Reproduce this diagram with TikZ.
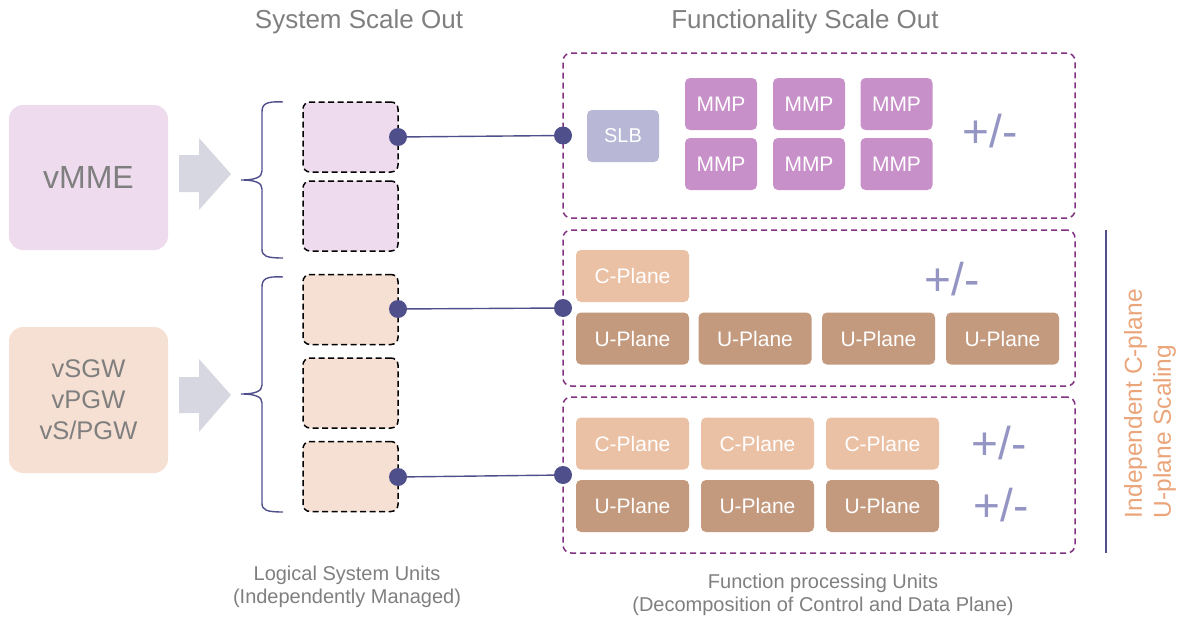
\documentclass[tikz,border=0pt]{standalone}
\usepackage{fontspec}
\setmainfont{Liberation Sans}
\definecolor{txtgray}{RGB}{127,127,127}
\definecolor{mmecol}{RGB}{238,219,238}
\definecolor{gwcol}{RGB}{246,224,211}
\definecolor{arrowcol}{RGB}{215,215,225}
\definecolor{dotcol}{RGB}{79,79,140}
\definecolor{grpcol}{RGB}{130,50,130}
\definecolor{slbcol}{RGB}{184,183,214}
\definecolor{mmpcol}{RGB}{200,144,201}
\definecolor{cpcol}{RGB}{235,193,166}
\definecolor{upcol}{RGB}{196,154,126}
\definecolor{pmcol}{RGB}{149,149,196}
\definecolor{sidecol}{RGB}{234,165,123}
\begin{document}
\begin{tikzpicture}[x=1pt,y=-1pt,inner sep=0pt,outer sep=0pt,
sysbox/.style={rectangle,rounded corners=14pt,minimum width=159pt,minimum height=145pt,text=txtgray},
unitbox/.style={draw,rectangle,rounded corners=7pt,line width=1.5pt,dash pattern=on 6pt off 3.5pt,minimum width=95pt,minimum height=70pt},
grpbox/.style={draw=grpcol,rectangle,rounded corners=8pt,line width=1.5pt,dash pattern=on 6pt off 4pt,minimum width=512pt},
fnbox/.style={rectangle,rounded corners=5pt,minimum width=113pt,minimum height=52pt,text=white,font=\fontsize{21}{21}\selectfont},
mmpbox/.style={fnbox,fill=mmpcol,minimum width=72pt},
dot/.style={circle,fill=dotcol,minimum size=18pt},
plusminus/.style={text=pmcol,font=\fontsize{46}{46}\selectfont},
conn/.style={draw=dotcol,line width=1.4pt},
heading/.style={text=txtgray,font=\fontsize{26}{26}\selectfont},
caption/.style={text=txtgray,align=center,font=\fontsize{20}{23}\selectfont}]

\useasboundingbox (0,0) rectangle (1179,621);

\draw (359,22) node[heading] (t1) {System Scale Out};
\draw (805,22) node[heading] (t2) {Functionality Scale Out};

\draw (88.5,177.5) node[sysbox,fill=mmecol,font=\fontsize{32}{32}\selectfont] (mme) {vMME};
\draw (88.5,400) node[sysbox,fill=gwcol,align=center,font=\fontsize{25.5}{31}\selectfont,minimum height=146pt] (gw) {vSGW\\vPGW\\vS/PGW};

\fill[arrowcol] (179,155) -- (199,155) -- (199,138) -- (231,174) -- (199,210) -- (199,192) -- (179,192) -- cycle;
\fill[arrowcol] (179,377) -- (199,377) -- (199,359) -- (231,395) -- (199,432) -- (199,413) -- (179,413) -- cycle;

\draw[conn] (283,102) .. controls (266,101) and (262,104) .. (262,112) -- (262,171) .. controls (262,177) and (256,180) .. (241,180) .. controls (256,180) and (262,183) .. (262,189) -- (262,249) .. controls (262,256) and (266,258) .. (283,258);
\draw[conn] (283,277) .. controls (266,276) and (262,279) .. (262,287) -- (262,385) .. controls (262,391) and (256,394) .. (241,394) .. controls (256,394) and (262,397) .. (262,403) -- (262,503) .. controls (262,510) and (266,512) .. (283,512);

\draw (350.5,137) node[unitbox,fill=mmecol] (u1) {};
\draw (350.5,216) node[unitbox,fill=mmecol] (u2) {};
\draw (350.5,309.5) node[unitbox,fill=gwcol] (u3) {};
\draw (350.5,393) node[unitbox,fill=gwcol] (u4) {};
\draw (350.5,476.5) node[unitbox,fill=gwcol] (u5) {};

\draw (819,135.5) node[grpbox,minimum height=165pt] (g1) {};
\draw (819,308) node[grpbox,minimum height=156pt] (g2) {};
\draw (819,475) node[grpbox,minimum height=156pt] (g3) {};

\draw (398,137) node[dot] (d1) {};
\draw (398,309) node[dot] (d2) {};
\draw (398,477) node[dot] (d3) {};
\draw (g1.west) node[dot] (e1) {};
\draw (g2.west) node[dot] (e2) {};
\draw (g3.west) node[dot] (e3) {};
\draw[conn] (d1) -- (e1);
\draw[conn] (d2) -- (e2);
\draw[conn] (d3) -- (e3);

\draw (623,136) node[fnbox,fill=slbcol,minimum width=72pt,font=\fontsize{20}{20}\selectfont] (slb) {SLB};
\draw (721,104) node[mmpbox] (m1) {MMP};
\draw (809,104) node[mmpbox] (m2) {MMP};
\draw (896.5,104) node[mmpbox] (m3) {MMP};
\draw (721,164) node[mmpbox] (m4) {MMP};
\draw (809,164) node[mmpbox] (m5) {MMP};
\draw (896.5,164) node[mmpbox] (m6) {MMP};
\draw (990,131) node[plusminus] (pm1) {+/-};

\draw (632.5,276) node[fnbox,fill=cpcol] (c1) {C-Plane};
\draw (632.5,338.5) node[fnbox,fill=upcol] (p1) {U-Plane};
\draw (755,338.5) node[fnbox,fill=upcol] (p2) {U-Plane};
\draw (878.5,338.5) node[fnbox,fill=upcol] (p3) {U-Plane};
\draw (1002.5,338.5) node[fnbox,fill=upcol] (p4) {U-Plane};
\draw (952,279) node[plusminus] (pm2) {+/-};

\draw (632.5,443.5) node[fnbox,fill=cpcol] (c2) {C-Plane};
\draw (757.5,443.5) node[fnbox,fill=cpcol] (c3) {C-Plane};
\draw (882.5,443.5) node[fnbox,fill=cpcol] (c4) {C-Plane};
\draw (632.5,506) node[fnbox,fill=upcol] (p5) {U-Plane};
\draw (757.5,506) node[fnbox,fill=upcol] (p6) {U-Plane};
\draw (882.5,506) node[fnbox,fill=upcol] (p7) {U-Plane};
\draw (999,443) node[plusminus] (pm3) {+/-};
\draw (1001,505) node[plusminus] (pm4) {+/-};

\draw[conn,line width=2pt] (1106,230) coordinate (s1) -- (1106,553) coordinate (s2);
\draw (1150,518) node[rotate=90,anchor=west,align=left,text=sidecol,font=\fontsize{24.5}{29}\selectfont] (side) {Independent C-plane\\U-plane Scaling};

\draw (347,587) node[caption] (cap1) {Logical System Units\\(Independently Managed)};
\draw (823,595) node[caption] (cap2) {Function processing Units\\(Decomposition of Control and Data Plane)};
\end{tikzpicture}
\end{document}
